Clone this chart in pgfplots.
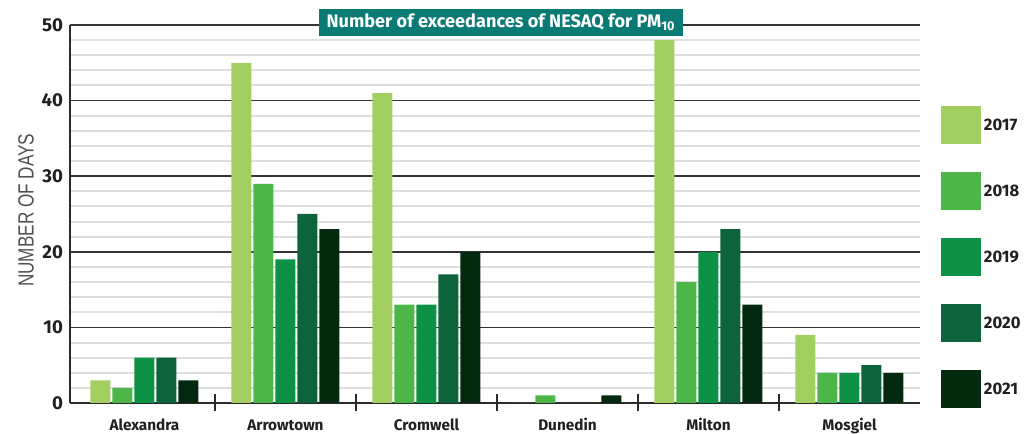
\documentclass[border=0pt]{standalone}
\usepackage{fontspec}
\setmainfont{Fira Sans}
\newfontfamily\ylabfont[FakeStretch=0.78]{Liberation Sans}
\usepackage{pgfplots}
\pgfplotsset{compat=1.18}
\definecolor{cA}{HTML}{A3CE62}
\definecolor{cB}{HTML}{4CB748}
\definecolor{cC}{HTML}{0D9245}
\definecolor{cD}{HTML}{0E643A}
\definecolor{cE}{HTML}{03290F}
\definecolor{titleteal}{HTML}{0A7B74}
\definecolor{axisdark}{HTML}{2B2B2B}
\definecolor{gridmajor}{HTML}{333333}
\definecolor{gridminor}{HTML}{DEDEDE}
\definecolor{textdark}{HTML}{231F20}
\begin{document}
\begin{tikzpicture}
\path[use as bounding box] (-52.5pt,-23.25pt) rectangle (718.5pt,302.25pt);
\begin{axis}[
  at={(0pt,0pt)}, anchor=south west,
  width=637.5pt, height=283.5pt, scale only axis,
  ybar=1.5pt, bar width=15pt,
  xmin=-0.528, xmax=5.5, ymin=0, ymax=50,
  xtick={0,1,2,3,4,5},
  xticklabels={Alexandra,Arrowtown,Cromwell,Dunedin,Milton,Mosgiel},
  ytick={0,10,20,30,40,50},
  minor ytick={2,4,6,8,12,14,16,18,22,24,26,28,32,34,36,38,42,44,46,48},
  ymajorgrids, yminorgrids,
  major grid style={draw=gridmajor, line width=1.1pt},
  minor grid style={draw=gridminor, line width=1.5pt},
  axis x line*=bottom, axis y line*=left,
  axis line style={draw=axisdark, line width=1.5pt, -},
  major tick length=0pt, minor tick length=0pt,
  extra x ticks={0.5,1.5,2.5,3.5,4.5},
  extra x tick labels={},
  extra x tick style={major tick length=12.75pt, tick align=center, tick style={draw=axisdark, line width=1.5pt}},
  /pgf/number format/assume math mode=true,
  yticklabel style={font=\bfseries\fontsize{14}{16}\selectfont, text=textdark, inner sep=0pt, xshift=-5pt, anchor=east},
  xticklabel style={font=\bfseries\fontsize{11.5}{13}\selectfont, text=textdark, anchor=base, yshift=-20.5pt},
  every axis y label/.style={at={(axis description cs:-0.0518,0.51)}, rotate=90, anchor=center, font=\ylabfont\fontsize{16.5}{18}\selectfont, text=textdark!78},
  ylabel={NUMBER OF DAYS},
  legend image code/.code={\fill[#1] (0pt,-14.25pt) rectangle (30pt,14.25pt);},
  legend style={at={(1.0247,0.7857)}, anchor=north west, draw=none, fill=none, inner sep=0pt,
    row sep=21pt, font=\bfseries\fontsize{12.5}{14}\selectfont, text=textdark,
    /tikz/every even column/.append style={column sep=4pt}},
  legend cell align=left,
]
\addplot[fill=cA, draw=none] coordinates {(0,3) (1,45) (2,41) (3,0) (4,48) (5,9)};
\addplot[fill=cB, draw=none] coordinates {(0,2) (1,29) (2,13) (3,1) (4,16) (5,4)};
\addplot[fill=cC, draw=none] coordinates {(0,6) (1,19) (2,13) (3,0) (4,20) (5,4)};
\addplot[fill=cD, draw=none] coordinates {(0,6) (1,25) (2,17) (3,0) (4,23) (5,5)};
\addplot[fill=cE, draw=none] coordinates {(0,3) (1,23) (2,20) (3,1) (4,13) (5,4)};
\legend{2017,2018,2019,2020,2021}
\end{axis}
\node[fill=titleteal, text=white, font=\bfseries\fontsize{13.6}{15}\selectfont, inner xsep=5.5pt, inner ysep=3.5pt, text height=10.2pt, text depth=3pt, anchor=center] at (323.2pt,285.5pt) {Number of exceedances of NESAQ for PM\textsubscript{10}};
\end{tikzpicture}
\end{document}
